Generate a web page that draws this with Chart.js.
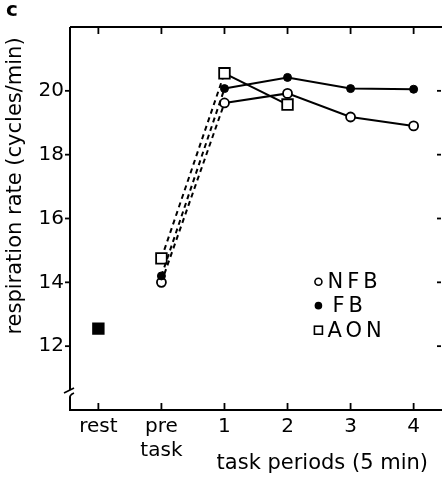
<!DOCTYPE html>
<html>
<head>
<meta charset="utf-8">
<script src="https://cdn.jsdelivr.net/npm/chart.js@4/dist/chart.umd.min.js"></script>
<style>
html,body{margin:0;padding:0;background:#fff;}
#wrap{width:442px;height:479px;}
</style>
</head>
<body>
<div id="wrap"><canvas id="c" width="442" height="479"></canvas></div>
<script>
// ---- data ----
const categories = ['rest', ['pre', 'task'], '1', '2', '3', '4'];
const yTicks = [12, 14, 16, 18, 20];
const nfb = [12.55, 14.0, 19.62, 19.92, 19.18, 18.9];
const fb  = [12.55, 14.2, 20.07, 20.42, 20.07, 20.05];
const aon = [12.55, 14.75, 20.55, 19.57, null, null];
const seriesNames = ['NFB', 'FB', 'AON'];
const yTitle = 'respiration rate (cycles/min)';
const xTitle = 'task periods (5 min)';
const panelLabel = 'c';

const FONT = "'DejaVu Sans', sans-serif";

function toPts(arr) { return arr.map((v, i) => ({x: i, y: v})); }

const segStyle = {
  borderDash: ctx => ctx.p0DataIndex === 1 ? [5, 4] : undefined,
  borderColor: ctx => ctx.p0DataIndex === 0 ? 'rgba(0,0,0,0)' : undefined
};

const decor = {
  id: 'decor',
  afterDraw(chart) {
    const ctx = chart.ctx;
    const xs = chart.scales.x, ys = chart.scales.y;
    const a = chart.chartArea;
    ctx.save();
    ctx.strokeStyle = '#000';
    ctx.lineWidth = 2;
    ctx.lineCap = 'butt';
    // top border
    ctx.beginPath(); ctx.moveTo(a.left, a.top); ctx.lineTo(a.right, a.top); ctx.stroke();
    // left axis with break
    ctx.beginPath(); ctx.moveTo(a.left, a.top); ctx.lineTo(a.left, a.bottom - 20); ctx.stroke();
    ctx.beginPath(); ctx.moveTo(a.left, a.bottom - 13); ctx.lineTo(a.left, a.bottom); ctx.stroke();
    ctx.lineWidth = 1.8;
    ctx.beginPath(); ctx.moveTo(a.left - 6, a.bottom - 17); ctx.lineTo(a.left + 4, a.bottom - 22); ctx.stroke();
    ctx.beginPath(); ctx.moveTo(a.left + 4, a.bottom - 17); ctx.quadraticCurveTo(a.left - 1, a.bottom - 15, a.left, a.bottom - 11); ctx.stroke();
    ctx.lineWidth = 2;
    // bottom axis
    ctx.beginPath(); ctx.moveTo(a.left - 1, a.bottom); ctx.lineTo(a.right, a.bottom); ctx.stroke();
    // x ticks (bottom inward, top inward)
    ctx.lineWidth = 1.8;
    xs.ticks.forEach(t => {
      const px = xs.getPixelForValue(t.value);
      ctx.beginPath(); ctx.moveTo(px, a.bottom); ctx.lineTo(px, a.bottom - 7); ctx.stroke();
      ctx.beginPath(); ctx.moveTo(px, a.top); ctx.lineTo(px, a.top + 7); ctx.stroke();
    });
    // y ticks (left outward, right inward)
    ys.ticks.forEach(t => {
      const py = ys.getPixelForValue(t.value);
      ctx.beginPath(); ctx.moveTo(a.left - 5, py); ctx.lineTo(a.left, py); ctx.stroke();
      ctx.beginPath(); ctx.moveTo(a.right - 5, py); ctx.lineTo(a.right - 1, py); ctx.stroke();
    });
    // axis titles
    ctx.fillStyle = '#000';
    ctx.font = '21px ' + FONT;
    ctx.textAlign = 'center';
    ctx.textBaseline = 'middle';
    ctx.save();
    ctx.translate(16, 186);
    ctx.rotate(-Math.PI / 2);
    ctx.fillText(yTitle, 0, 0);
    ctx.restore();
    ctx.textAlign = 'right';
    ctx.fillText(xTitle, 428, 464);
    // panel label
    ctx.font = 'bold 20px ' + FONT;
    ctx.textAlign = 'left';
    ctx.fillText(panelLabel, 6, 11);
    // legend
    const lx = xs.getPixelForValue(3.49);
    const rows = [14.02, 13.27, 12.5].map(v => ys.getPixelForValue(v));
    ctx.font = '21px ' + FONT;
    ctx.textAlign = 'left';
    ctx.textBaseline = 'middle';
    try { ctx.letterSpacing = '4px'; } catch (e) {}
    ctx.lineWidth = 1.6;
    // NFB
    ctx.beginPath(); ctx.arc(lx, rows[0], 3.5, 0, Math.PI * 2); ctx.fillStyle = '#fff'; ctx.fill(); ctx.stroke();
    ctx.fillStyle = '#000';
    ctx.fillText(seriesNames[0], lx + 9, rows[0] + 1);
    // FB
    ctx.beginPath(); ctx.arc(lx, rows[1], 3.8, 0, Math.PI * 2); ctx.fill();
    ctx.fillText(seriesNames[1], lx + 14, rows[1] + 1);
    // AON
    ctx.strokeRect(lx - 4, rows[2] - 4, 8, 8);
    ctx.fillText(seriesNames[2], lx + 9, rows[2] + 1);
    ctx.restore();
  }
};

new Chart(document.getElementById('c'), {
  type: 'line',
  data: {
    datasets: [
      {
        label: seriesNames[1], data: toPts(fb),
        borderColor: '#000', borderWidth: 2, segment: segStyle,
        pointStyle: 'circle', pointRadius: ctx => ctx.dataIndex === 0 ? 0 : 4,
        pointBackgroundColor: '#000', pointBorderColor: '#000', pointBorderWidth: 1
      },
      {
        label: seriesNames[0], data: toPts(nfb),
        borderColor: '#000', borderWidth: 2, segment: segStyle,
        pointStyle: 'circle', pointRadius: ctx => ctx.dataIndex === 0 ? 0 : 4.5,
        pointBackgroundColor: '#fff', pointBorderColor: '#000', pointBorderWidth: 1.8
      },
      {
        label: seriesNames[2], data: toPts(aon),
        borderColor: '#000', borderWidth: 2, segment: segStyle,
        pointStyle: 'rect', pointRadius: 7.5,
        pointBackgroundColor: ctx => ctx.dataIndex === 0 ? '#000' : '#fff',
        pointBorderColor: '#000', pointBorderWidth: 1.8
      }
    ]
  },
  options: {
    responsive: false,
    animation: false,
    events: [],
    layout: { autoPadding: false, padding: { top: 27, right: 0, left: 0, bottom: 0 } },
    plugins: { legend: { display: false }, tooltip: { enabled: false } },
    scales: {
      x: {
        type: 'linear', min: -0.45, max: 5.45,
        afterBuildTicks: s => { s.ticks = categories.map((c, i) => ({ value: i })); },
        afterFit: s => { s.height = 69; s.paddingLeft = 0; s.paddingRight = 0; },
        grid: { display: false, drawTicks: false },
        border: { display: false },
        ticks: {
          autoSkip: false, maxRotation: 0, padding: 5,
          color: '#000', font: { family: FONT, size: 20 },
          callback: (v) => categories[Math.round(v)]
        }
      },
      y: {
        type: 'linear', min: 10, max: 22,
        afterBuildTicks: s => { s.ticks = yTicks.map(v => ({ value: v })); },
        afterFit: s => { s.width = 70; s.paddingTop = 0; s.paddingBottom = 0; },
        grid: { display: false, drawTicks: false },
        border: { display: false },
        ticks: {
          padding: 6, color: '#000', font: { family: FONT, size: 20 },
          callback: v => String(v)
        }
      }
    }
  },
  plugins: [decor]
});
</script>
</body>
</html>
